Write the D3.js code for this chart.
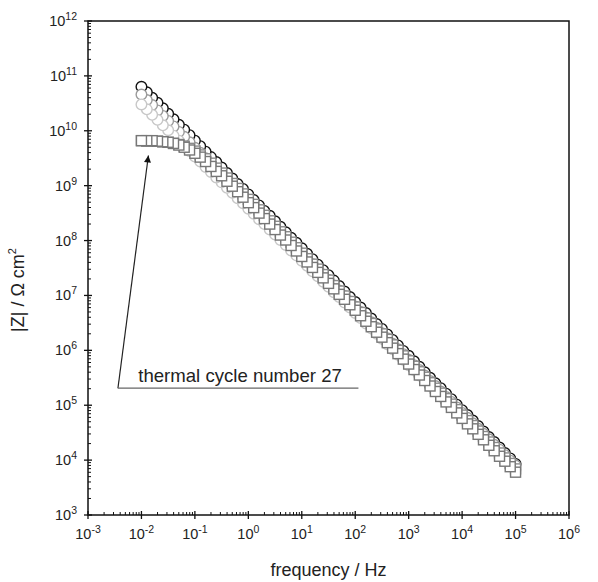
<!DOCTYPE html>
<html>
<head>
<meta charset="utf-8">
<script src="https://cdn.jsdelivr.net/npm/d3@7"></script>
<style>
  body { margin: 0; background: #fff; }
  text { font-family: "Liberation Sans", Arial, sans-serif; fill: #222; }
</style>
</head>
<body>
<div id="graphicContainer"></div>
<script>

// log10 of frequency / Hz, 10 points per decade
var logFreq = [-2.0,-1.9,-1.8,-1.7,-1.6,-1.5,-1.4,-1.3,-1.2,-1.1,
  -1.0,-0.9,-0.8,-0.7,-0.6,-0.5,-0.4,-0.3,-0.2,-0.1,
  0.0,0.1,0.2,0.3,0.4,0.5,0.6,0.7,0.8,0.9,
  1.0,1.1,1.2,1.3,1.4,1.5,1.6,1.7,1.8,1.9,
  2.0,2.1,2.2,2.3,2.4,2.5,2.6,2.7,2.8,2.9,
  3.0,3.1,3.2,3.3,3.4,3.5,3.6,3.7,3.8,3.9,
  4.0,4.1,4.2,4.3,4.4,4.5,4.6,4.7,4.8,4.9,5.0]

// log10 |Z|
var cycle1 = [10.80,10.70,10.60,10.51,10.41,10.31,10.21,10.11,10.02,9.92,
  9.82,9.72,9.62,9.52,9.43,9.33,9.23,9.13,9.03,8.94,
  8.84,8.74,8.64,8.54,8.45,8.35,8.25,8.15,8.05,7.96,
  7.86,7.76,7.66,7.56,7.46,7.37,7.27,7.17,7.07,6.97,
  6.88,6.78,6.68,6.58,6.48,6.39,6.29,6.19,6.09,5.99,
  5.90,5.80,5.70,5.60,5.50,5.40,5.31,5.21,5.11,5.01,
  4.91,4.82,4.72,4.62,4.52,4.42,4.33,4.23,4.13,4.03,3.93]

var cycleB = [10.66,10.56,10.47,10.37,10.27,10.18,10.08,9.98,9.89,9.79,
  9.69,9.60,9.50,9.40,9.31,9.21,9.11,9.02,8.92,8.82,
  8.73,8.63,8.53,8.44,8.34,8.25,8.15,8.05,7.96,7.86,
  7.76,7.67,7.57,7.47,7.38,7.28,7.18,7.09,6.99,6.89,
  6.80,6.70,6.60,6.51,6.41,6.31,6.22,6.12,6.02,5.93,
  5.83,5.73,5.64,5.54,5.44,5.35,5.25,5.15,5.06,4.96,
  4.86,4.77,4.67,4.57,4.48,4.38,4.28,4.19,4.09,3.99,3.90]

var cycleC = [10.48,10.39,10.29,10.20,10.10,10.01,9.91,9.82,9.72,9.63,
  9.53,9.44,9.34,9.25,9.15,9.06,8.96,8.87,8.77,8.68,
  8.58,8.49,8.39,8.30,8.20,8.11,8.01,7.92,7.82,7.73,
  7.63,7.54,7.44,7.35,7.25,7.16,7.06,6.97,6.87,6.78,
  6.68,6.59,6.49,6.40,6.30,6.21,6.11,6.02,5.92,5.83,
  5.73,5.64,5.54,5.45,5.35,5.26,5.16,5.07,4.97,4.88,
  4.78,4.69,4.59,4.50,4.40,4.31,4.21,4.12,4.02,3.93,3.83]

var cycleD = [9.82,9.81,9.81,9.81,9.80,9.79,9.77,9.75,9.72,9.68,
  9.63,9.56,9.49,9.41,9.32,9.23,9.14,9.04,8.95,8.85,
  8.75,8.66,8.56,8.46,8.36,8.26,8.16,8.07,7.97,7.87,
  7.77,7.67,7.57,7.48,7.38,7.28,7.18,7.08,6.99,6.89,
  6.79,6.69,6.59,6.49,6.39,6.30,6.20,6.10,6.00,5.90,
  5.81,5.71,5.61,5.51,5.41,5.31,5.22,5.12,5.02,4.92,
  4.82,4.72,4.63,4.53,4.43,4.33,4.23,4.13,4.04,3.94,3.84]

var cycle27 = [9.82,9.82,9.82,9.81,9.80,9.79,9.77,9.74,9.70,9.65,
  9.59,9.52,9.44,9.35,9.26,9.18,9.08,8.99,8.89,8.79,
  8.69,8.60,8.50,8.40,8.30,8.20,8.10,8.01,7.91,7.81,
  7.71,7.61,7.51,7.42,7.32,7.22,7.12,7.02,6.93,6.83,
  6.73,6.63,6.53,6.43,6.33,6.24,6.14,6.04,5.94,5.84,
  5.75,5.65,5.55,5.45,5.35,5.25,5.16,5.06,4.96,4.86,
  4.76,4.66,4.57,4.47,4.37,4.27,4.17,4.07,3.98,3.88,3.78]

var xDecades = [-3,-2,-1,0,1,2,3,4,5,6]
var yDecades = [3,4,5,6,7,8,9,10,11,12]

// drawing order: bottom first
var seriesList = [
  {values: cycle1, shape: "circle", stroke: "#111"},
  {values: cycleB, shape: "circle", stroke: "#9a9a9a"},
  {values: cycleC, shape: "circle", stroke: "#c8c8c8"},
  {values: cycleD, shape: "square", stroke: "#8c8c8c"},
  {values: cycle27, shape: "square", stroke: "#777"}
]

var width = 598, height = 582
var margin = {top: 21, right: 29, bottom: 67, left: 88}
var iw = width - margin.left - margin.right
var ih = height - margin.top - margin.bottom

var svg = d3.select("#graphicContainer").append("svg")
  .attr("width", width)
  .attr("height", height)

var x = d3.scaleLog().domain([1e-3, 1e6]).range([margin.left, margin.left + iw])
var y = d3.scaleLog().domain([1e3, 1e12]).range([margin.top + ih, margin.top])

var p10 = v => Math.pow(10, v)

// data
var plot = svg.append("g")

seriesList.forEach(function(s) {
  // measured from high to low frequency, so draw in that order
  var pts = logFreq.map((f, i) => ({f: p10(f), z: p10(s.values[i])})).reverse()
  var g = plot.append("g")
  if (s.shape == "circle") {
    g.selectAll("circle").data(pts).enter().append("circle")
      .attr("cx", d => x(d.f))
      .attr("cy", d => y(d.z))
      .attr("r", 5.3)
      .attr("fill", "#fff")
      .attr("stroke", s.stroke)
      .attr("stroke-width", 1.4)
  } else {
    g.selectAll("rect").data(pts).enter().append("rect")
      .attr("x", d => x(d.f) - 5)
      .attr("y", d => y(d.z) - 5)
      .attr("width", 10)
      .attr("height", 10)
      .attr("fill", "#fff")
      .attr("stroke", s.stroke)
      .attr("stroke-width", 1.4)
  }
})

// frame
svg.append("rect")
  .attr("x", margin.left).attr("y", margin.top)
  .attr("width", iw).attr("height", ih)
  .attr("fill", "none").attr("stroke", "#111").attr("stroke-width", 1.5)

var axisY0 = margin.top + ih

// x ticks
var xt = svg.append("g")
xDecades.forEach(function(e) {
  xt.append("line")
    .attr("x1", x(p10(e))).attr("x2", x(p10(e)))
    .attr("y1", axisY0 - 4).attr("y2", axisY0 + 4)
    .attr("stroke", "#111").attr("stroke-width", 1.3)
  var t = xt.append("text")
    .attr("x", x(p10(e)))
    .attr("y", axisY0 + 24)
    .attr("text-anchor", "middle")
    .attr("font-size", 14.5)
    .text("10")
  t.append("tspan").attr("dy", -6).attr("font-size", 10.5).text(String(e))
  if (e < 6) {
    d3.range(2, 10).forEach(function(m) {
      var v = m * p10(e)
      xt.append("line")
        .attr("x1", x(v)).attr("x2", x(v))
        .attr("y1", axisY0 - 3).attr("y2", axisY0)
        .attr("stroke", "#111").attr("stroke-width", 1)
    })
  }
})

// y ticks
var yt = svg.append("g")
yDecades.forEach(function(e) {
  yt.append("line")
    .attr("x1", margin.left - 4).attr("x2", margin.left + 4)
    .attr("y1", y(p10(e))).attr("y2", y(p10(e)))
    .attr("stroke", "#111").attr("stroke-width", 1.3)
  var t = yt.append("text")
    .attr("x", margin.left - 11)
    .attr("y", y(p10(e)) + 5)
    .attr("text-anchor", "end")
    .attr("font-size", 14.5)
    .text("10")
  t.append("tspan").attr("dy", -6).attr("font-size", 10.5).text(String(e))
  if (e < 12) {
    d3.range(2, 10).forEach(function(m) {
      var v = m * p10(e)
      yt.append("line")
        .attr("x1", margin.left).attr("x2", margin.left + 3)
        .attr("y1", y(v)).attr("y2", y(v))
        .attr("stroke", "#111").attr("stroke-width", 1)
    })
  }
})

// axis titles
svg.append("text")
  .attr("x", margin.left + iw / 2)
  .attr("y", height - 6)
  .attr("text-anchor", "middle")
  .attr("font-size", 18)
  .text("frequency / Hz")

var yl = svg.append("text")
  .attr("transform", "translate(" + 24 + "," + (margin.top + ih / 2 + 22) + ") rotate(-90)")
  .attr("text-anchor", "middle")
  .attr("font-size", 18)
  .text("|Z| / \u03A9 cm")
yl.append("tspan").attr("dy", -8).attr("font-size", 11).text("2")

// annotation: arrow to thermal cycle 27
var defs = svg.append("defs")
defs.append("marker")
  .attr("id", "arrowHead")
  .attr("viewBox", "0 0 10 10")
  .attr("refX", 10).attr("refY", 5)
  .attr("markerWidth", 9).attr("markerHeight", 7)
  .attr("markerUnits", "userSpaceOnUse")
  .attr("orient", "auto")
  .append("path").attr("d", "M0,0L10,5L0,10Z").attr("fill", "#111")

var annBase = {f: p10(-2.44), z: p10(5.31)}
var annTip = {f: p10(-1.87), z: p10(9.55)}

svg.append("line")
  .attr("x1", x(annBase.f)).attr("y1", y(annBase.z))
  .attr("x2", x(annTip.f)).attr("y2", y(annTip.z))
  .attr("stroke", "#222").attr("stroke-width", 1.2)
  .attr("marker-end", "url(#arrowHead)")

svg.append("line")
  .attr("x1", x(annBase.f)).attr("y1", y(annBase.z))
  .attr("x2", x(p10(2.06))).attr("y2", y(annBase.z))
  .attr("stroke", "#666").attr("stroke-width", 1.2)

svg.append("text")
  .attr("x", x(p10(-2.06)))
  .attr("y", y(annBase.z) - 6)
  .attr("font-size", 18.6)
  .text("thermal cycle number 27")

</script>
</body>
</html>
